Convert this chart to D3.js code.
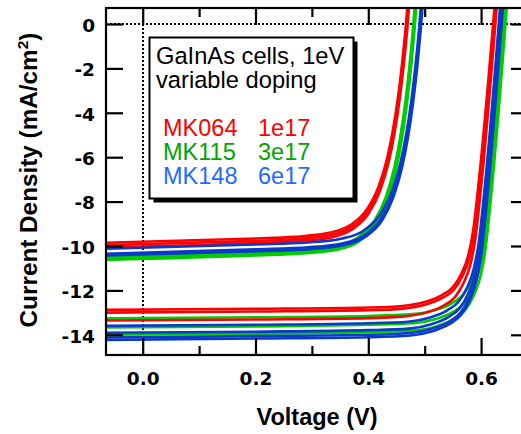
<!DOCTYPE html>
<html>
<head>
<meta charset="utf-8">
<script src="https://cdn.jsdelivr.net/npm/d3@7"></script>
<style>
  html, body { margin: 0; padding: 0; background: #fff; }
  svg { display: block; }
</style>
</head>
<body>
<svg id="chart" width="521" height="434"></svg>
<script>
// ---- Axis ticks ----
const xMajorTicks = [0.0, 0.2, 0.4, 0.6];
const xMinorTicks = [0.1, 0.3, 0.5];
const yTicks = [0, -2, -4, -6, -8, -10, -12, -14];

// ---- Legend ----
const legendTitle = ["GaInAs cells, 1eV", "variable doping"];
const sampleNames = ["MK064", "MK115", "MK148"];
const dopingLabels = ["1e17", "3e17", "6e17"];

// ---- J-V curves, lower illumination (V in volts, J in mA/cm^2) ----
const lowV_MK064 = [
  [-0.07, 0.2, 0.268, 0.328, 0.368, 0.398, 0.418, 0.433, 0.443, 0.453, 0.460, 0.466, 0.472, 0.478],
  [-0.07, 0.2, 0.2695, 0.3295, 0.3695, 0.3995, 0.4195, 0.4345, 0.4445, 0.4545, 0.4615, 0.4675, 0.4735, 0.4795],
  [-0.07, 0.2, 0.271, 0.331, 0.371, 0.401, 0.421, 0.436, 0.446, 0.456, 0.463, 0.469, 0.475, 0.481]
];
const lowJ_MK064 = [
  [-9.86, -9.66, -9.59, -9.42, -9.06, -8.33, -7.34, -6.09, -4.88, -3.24, -1.76, -0.23, 1.62, 3.83],
  [-9.97, -9.77, -9.70, -9.53, -9.16, -8.43, -7.42, -6.16, -4.93, -3.28, -1.79, -0.23, 1.63, 3.87],
  [-10.07, -9.87, -9.79, -9.63, -9.26, -8.52, -7.50, -6.23, -4.99, -3.32, -1.81, -0.24, 1.65, 3.91]
];
const lowV_MK115 = [
  [-0.07, 0.2, 0.281, 0.341, 0.381, 0.411, 0.431, 0.446, 0.456, 0.466, 0.473, 0.479, 0.485, 0.491],
  [-0.07, 0.2, 0.2825, 0.3425, 0.3825, 0.4125, 0.4325, 0.4475, 0.4575, 0.4675, 0.4745, 0.4805, 0.4865, 0.4925],
  [-0.07, 0.2, 0.284, 0.344, 0.384, 0.414, 0.434, 0.449, 0.459, 0.469, 0.476, 0.482, 0.488, 0.494]
];
const lowJ_MK115 = [
  [-10.47, -10.27, -10.19, -10.01, -9.63, -8.86, -7.80, -6.48, -5.19, -3.45, -1.89, -0.26, 1.71, 4.06],
  [-10.55, -10.35, -10.26, -10.09, -9.71, -8.93, -7.87, -6.53, -5.23, -3.48, -1.90, -0.26, 1.72, 4.09],
  [-10.63, -10.43, -10.34, -10.17, -9.78, -9.00, -7.93, -6.58, -5.27, -3.51, -1.92, -0.26, 1.73, 4.12]
];
const lowV_MK148 = [
  [-0.07, 0.2, 0.292, 0.352, 0.392, 0.422, 0.442, 0.457, 0.467, 0.477, 0.484, 0.490, 0.496, 0.502],
  [-0.07, 0.2, 0.2935, 0.3535, 0.3935, 0.4235, 0.4435, 0.4585, 0.4685, 0.4785, 0.4855, 0.4915, 0.4975, 0.5035],
  [-0.07, 0.2, 0.295, 0.355, 0.395, 0.425, 0.445, 0.460, 0.470, 0.480, 0.487, 0.493, 0.499, 0.505]
];
const lowJ_MK148 = [
  [-10.13, -9.93, -9.84, -9.67, -9.30, -8.55, -7.53, -6.25, -5.00, -3.32, -1.80, -0.23, 1.67, 3.95],
  [-10.35, -10.15, -10.06, -9.89, -9.51, -8.75, -7.70, -6.39, -5.12, -3.40, -1.85, -0.24, 1.70, 4.02],
  [-10.43, -10.23, -10.14, -9.97, -9.58, -8.82, -7.76, -6.44, -5.16, -3.43, -1.87, -0.24, 1.71, 4.05]
];

// ---- J-V curves, higher illumination ----
const highV_MK064 = [
  [-0.07, 0.20, 0.40, 0.460, 0.500, 0.530, 0.550, 0.565, 0.577, 0.586, 0.593, 0.600, 0.607, 0.613, 0.619, 0.625, 0.631],
  [-0.07, 0.20, 0.40, 0.462, 0.502, 0.532, 0.552, 0.567, 0.579, 0.588, 0.595, 0.602, 0.609, 0.615, 0.621, 0.627, 0.633],
  [-0.07, 0.20, 0.40, 0.464, 0.504, 0.534, 0.554, 0.569, 0.581, 0.590, 0.597, 0.604, 0.611, 0.617, 0.623, 0.629, 0.635]
];
const highJ_MK064 = [
  [-12.88, -12.83, -12.77, -12.70, -12.52, -12.22, -11.85, -11.25, -10.45, -9.30, -7.80, -6.10, -4.20, -2.50, -0.70, 1.10, 2.90],
  [-13.00, -12.95, -12.89, -12.82, -12.64, -12.33, -11.96, -11.35, -10.55, -9.39, -7.87, -6.16, -4.24, -2.52, -0.71, 1.11, 2.93],
  [-13.36, -13.31, -13.25, -13.17, -12.99, -12.68, -12.29, -11.67, -10.84, -9.65, -8.09, -6.33, -4.36, -2.59, -0.73, 1.14, 3.01]
];
const highV_MK115 = [
  [-0.07, 0.20, 0.40, 0.478, 0.518, 0.548, 0.568, 0.583, 0.595, 0.604, 0.611, 0.618, 0.625, 0.631, 0.637, 0.643, 0.649],
  [-0.07, 0.20, 0.40, 0.480, 0.520, 0.550, 0.570, 0.585, 0.597, 0.606, 0.613, 0.620, 0.627, 0.633, 0.639, 0.645, 0.651],
  [-0.07, 0.20, 0.40, 0.482, 0.522, 0.552, 0.572, 0.587, 0.599, 0.608, 0.615, 0.622, 0.629, 0.635, 0.641, 0.647, 0.653]
];
const highJ_MK115 = [
  [-13.26, -13.21, -13.15, -13.07, -12.89, -12.58, -12.20, -11.58, -10.76, -9.57, -8.03, -6.28, -4.32, -2.57, -0.72, 1.13, 2.99],
  [-13.67, -13.62, -13.55, -13.48, -13.29, -12.97, -12.58, -11.94, -11.09, -9.87, -8.28, -6.47, -4.46, -2.65, -0.74, 1.17, 3.08],
  [-14.00, -13.95, -13.88, -13.80, -13.61, -13.28, -12.88, -12.23, -11.36, -10.11, -8.48, -6.63, -4.57, -2.72, -0.76, 1.20, 3.15]
];
const highV_MK148 = [
  [-0.07, 0.20, 0.40, 0.470, 0.510, 0.540, 0.560, 0.575, 0.587, 0.596, 0.603, 0.610, 0.617, 0.623, 0.629, 0.635, 0.641],
  [-0.07, 0.20, 0.40, 0.472, 0.512, 0.542, 0.562, 0.577, 0.589, 0.598, 0.605, 0.612, 0.619, 0.625, 0.631, 0.637, 0.643],
  [-0.07, 0.20, 0.40, 0.474, 0.514, 0.544, 0.564, 0.579, 0.591, 0.600, 0.607, 0.614, 0.621, 0.627, 0.633, 0.639, 0.645],
  [-0.07, 0.20, 0.40, 0.475, 0.515, 0.545, 0.565, 0.580, 0.592, 0.601, 0.608, 0.615, 0.622, 0.628, 0.634, 0.640, 0.646]
];
const highJ_MK148 = [
  [-13.60, -13.55, -13.48, -13.41, -13.22, -12.90, -12.51, -11.88, -11.03, -9.82, -8.24, -6.44, -4.43, -2.64, -0.74, 1.16, 3.06],
  [-13.91, -13.86, -13.79, -13.72, -13.52, -13.20, -12.80, -12.15, -11.29, -10.04, -8.42, -6.59, -4.54, -2.70, -0.76, 1.19, 3.13],
  [-14.12, -14.06, -14.00, -13.92, -13.72, -13.40, -12.99, -12.33, -11.46, -10.19, -8.55, -6.69, -4.60, -2.74, -0.77, 1.21, 3.18],
  [-14.23, -14.17, -14.11, -14.03, -13.83, -13.50, -13.09, -12.43, -11.54, -10.27, -8.62, -6.74, -4.64, -2.76, -0.77, 1.22, 3.20]
];

// ---- Colours ----
const lineColors = { MK064: "#ff0000", MK115: "#00cc00", MK148: "#0a3acb" };
const textColors = { MK064: "#ff0000", MK115: "#00a400", MK148: "#1f6bff" };

// ---- Layout ----
const plot = { left: 106, top: 8, right: 528, bottom: 355 };
const svg = d3.select("#chart");

const x = d3.scaleLinear().domain([-0.0651, 0.6832]).range([plot.left, plot.right]);
const y = d3.scaleLinear().domain([0.72, -14.91]).range([plot.top, plot.bottom]);

svg.append("defs").append("clipPath").attr("id", "plotClip")
  .append("rect")
  .attr("x", plot.left).attr("y", plot.top)
  .attr("width", plot.right - plot.left).attr("height", plot.bottom - plot.top);

// Zero reference lines (dotted)
const refs = svg.append("g").attr("stroke", "#000").attr("stroke-width", 2)
  .attr("stroke-dasharray", "2,2").attr("fill", "none").attr("shape-rendering", "crispEdges");
const x0 = Math.round(x(0)), y0 = Math.round(y(0));
refs.append("line").attr("x1", x0).attr("x2", x0).attr("y1", plot.top).attr("y2", plot.bottom);
refs.append("line").attr("x1", plot.left).attr("x2", plot.right).attr("y1", y0).attr("y2", y0);

// Curves
const line = d3.line().x(d => x(d[0])).y(d => y(d[1])).curve(d3.curveMonotoneX);
const curvesG = svg.append("g").attr("clip-path", "url(#plotClip)").attr("fill", "none")
  .attr("stroke-width", 2.6).attr("stroke-linejoin", "round");

function drawSet(vs, js, color) {
  vs.forEach((v, i) => {
    const pts = v.map((vv, k) => [vv, js[i][k]]);
    curvesG.append("path").attr("d", line(pts)).attr("stroke", color);
  });
}
drawSet(lowV_MK115, lowJ_MK115, lineColors.MK115);
drawSet(lowV_MK064, lowJ_MK064, lineColors.MK064);
drawSet(lowV_MK148, lowJ_MK148, lineColors.MK148);
drawSet(highV_MK115, highJ_MK115, lineColors.MK115);
drawSet(highV_MK064, highJ_MK064, lineColors.MK064);
drawSet(highV_MK148, highJ_MK148, lineColors.MK148);

// Axes (ticks point inward, mirrored on top and right)
function styleAxis(g) {
  g.select(".domain").remove();
  g.selectAll(".tick line").attr("stroke", "#000").attr("stroke-width", 2.2);
  g.selectAll(".tick text").attr("fill", "#000")
    .attr("font-family", "'DejaVu Sans', sans-serif").attr("font-weight", "bold").attr("font-size", 18.5);
}
svg.append("g").attr("transform", `translate(0,${plot.bottom})`)
  .call(d3.axisBottom(x).tickValues(xMajorTicks).tickSizeInner(-17).tickSizeOuter(0)
    .tickPadding(16.5).tickFormat(d3.format(".1f")))
  .call(styleAxis);
svg.append("g").attr("transform", `translate(0,${plot.bottom})`)
  .call(d3.axisBottom(x).tickValues(xMinorTicks).tickSizeInner(-9).tickSizeOuter(0).tickFormat(""))
  .call(styleAxis);
svg.append("g").attr("transform", `translate(0,${plot.top})`)
  .call(d3.axisTop(x).tickValues(xMajorTicks).tickSizeInner(-17).tickSizeOuter(0).tickFormat(""))
  .call(styleAxis);
svg.append("g").attr("transform", `translate(0,${plot.top})`)
  .call(d3.axisTop(x).tickValues(xMinorTicks).tickSizeInner(-9).tickSizeOuter(0).tickFormat(""))
  .call(styleAxis);
svg.append("g").attr("transform", `translate(${plot.left},0)`)
  .call(d3.axisLeft(y).tickValues(yTicks).tickSizeInner(-17).tickSizeOuter(0)
    .tickPadding(11).tickFormat(d => String(d)))
  .call(styleAxis)
  .call(g => g.selectAll(".tick text").attr("dy", "0.39em"));
svg.append("g").attr("transform", `translate(${plot.right},0)`)
  .call(d3.axisRight(y).tickValues(yTicks).tickSizeInner(-17).tickSizeOuter(0).tickFormat(""))
  .call(styleAxis);

// Frame
svg.append("rect")
  .attr("x", plot.left).attr("y", plot.top)
  .attr("width", plot.right - plot.left).attr("height", plot.bottom - plot.top)
  .attr("fill", "none").attr("stroke", "#000").attr("stroke-width", 2.2);

// Axis titles
svg.append("text")
  .attr("x", 317).attr("y", 425).attr("text-anchor", "middle")
  .attr("font-family", "'Liberation Sans', Arial, sans-serif").attr("font-weight", "bold")
  .attr("font-size", 23.5).text("Voltage (V)");

const yTitle = svg.append("text")
  .attr("transform", "translate(37,180) rotate(-90)").attr("text-anchor", "middle")
  .attr("font-family", "'Liberation Sans', Arial, sans-serif").attr("font-weight", "bold")
  .attr("font-size", 24.3);
yTitle.append("tspan").text("Current Density (mA/cm");
yTitle.append("tspan").attr("font-size", 15.5).attr("dy", -9.5).text("2");
yTitle.append("tspan").attr("dy", 9.5).text(")");

// Legend box with drop shadow
const lg = { x: 149.5, y: 37.5, w: 204, h: 161 };
svg.append("rect").attr("x", lg.x + 4).attr("y", lg.y + 4).attr("width", lg.w).attr("height", lg.h)
  .attr("fill", "#000");
svg.append("rect").attr("x", lg.x).attr("y", lg.y).attr("width", lg.w).attr("height", lg.h)
  .attr("fill", "#fff").attr("stroke", "#000").attr("stroke-width", 2);

const legendFont = "'Liberation Sans', Arial, sans-serif";
svg.append("g").selectAll("text").data(legendTitle).join("text")
  .attr("x", 156).attr("y", (d, i) => 63.5 + i * 24)
  .attr("font-family", legendFont).attr("font-size", 23.7).attr("fill", "#000")
  .text(d => d);

const keys = ["MK064", "MK115", "MK148"];
const rows = svg.append("g").attr("font-family", legendFont).attr("font-size", 23.5);
sampleNames.forEach((name, i) => {
  rows.append("text").attr("x", 163).attr("y", 136 + i * 24.2)
    .attr("fill", textColors[keys[i]]).text(name);
  rows.append("text").attr("x", 258).attr("y", 136 + i * 24.2)
    .attr("fill", textColors[keys[i]]).text(dopingLabels[i]);
});
</script>
</body>
</html>
